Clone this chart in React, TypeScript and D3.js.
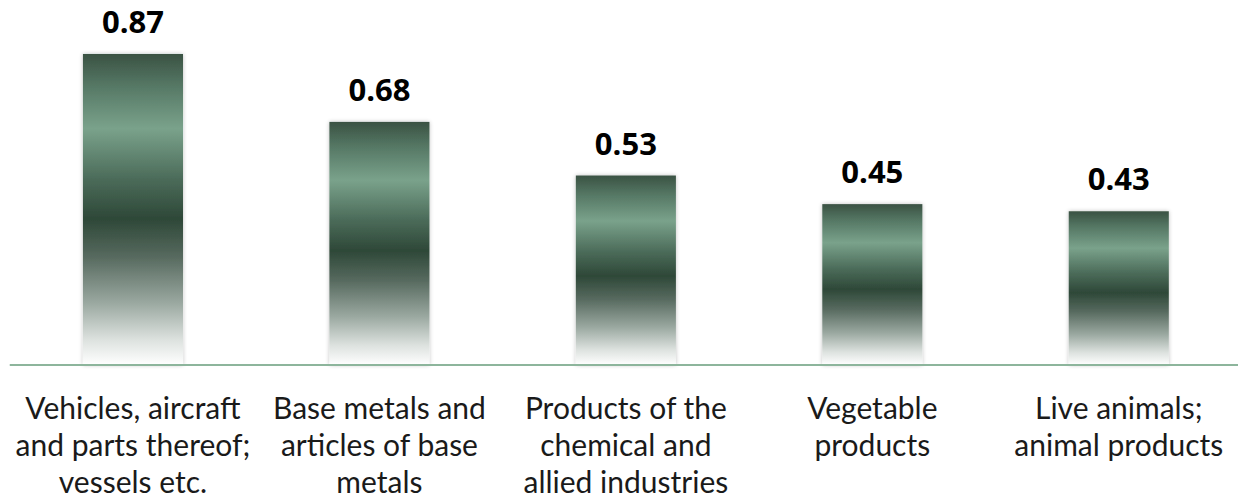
import React from "react";
import * as d3 from "d3";

const categories: string[][] = [
  ["Vehicles, aircraft", "and parts thereof;", "vessels etc."],
  ["Base metals and", "articles of base", "metals"],
  ["Products of the", "chemical and", "allied industries"],
  ["Vegetable", "products"],
  ["Live animals;", "animal products"],
];
const values: number[] = [0.87, 0.68, 0.53, 0.45, 0.43];
const valueLabels: string[] = ["0.87", "0.68", "0.53", "0.45", "0.43"];

const W = 1238;
const H = 501;
const baseY = 365;
const plotLeft = 9.75;
const plotRight = 1242;
const font = "Lato, 'Open Sans', sans-serif";

export default function App() {
  const ids = values.map((_, i) => i);
  const x = d3
    .scaleBand<number>()
    .domain(ids)
    .range([plotLeft, plotRight])
    .paddingInner(0.594)
    .paddingOuter(0.297);
  const y = d3.scaleLinear().domain([0, 1]).range([baseY, baseY - 357.5]);

  return (
    <svg
      width={W}
      height={H}
      style={{ position: "absolute", left: 0, top: 0, background: "#fff" }}
    >
      <defs>
        <linearGradient id="barGrad" x1="0" y1="0" x2="0" y2="1">
          <stop offset="0" stopColor="#3a5243" />
          <stop offset="0.1" stopColor="#557764" />
          <stop offset="0.24" stopColor="#7aa28b" />
          <stop offset="0.4" stopColor="#4c6c5a" />
          <stop offset="0.53" stopColor="#2e4838" />
          <stop offset="0.65" stopColor="#56695e" />
          <stop offset="0.8" stopColor="#9aa8a0" />
          <stop offset="0.92" stopColor="#dde2df" />
          <stop offset="1" stopColor="#ffffff" />
        </linearGradient>
        <filter id="shadow" x="-10%" y="-5%" width="120%" height="110%">
          <feGaussianBlur in="SourceAlpha" stdDeviation="2" />
          <feOffset dx="0" dy="0" result="b" />
          <feComponentTransfer>
            <feFuncA type="linear" slope="0.25" />
          </feComponentTransfer>
          <feMerge>
            <feMergeNode />
            <feMergeNode in="SourceGraphic" />
          </feMerge>
        </filter>
      </defs>
      {ids.map((i) => {
        const bx = x(i)!;
        const top = y(values[i]);
        return (
          <g key={i}>
            <rect
              x={bx}
              y={top}
              width={x.bandwidth()}
              height={baseY - top}
              fill="url(#barGrad)"
              filter="url(#shadow)"
            />
            <text
              x={bx + x.bandwidth() / 2}
              y={top - 21}
              textAnchor="middle"
              fontFamily="'Open Sans', sans-serif"
              fontWeight={700}
              fontSize={31}
              fill="#000"
            >
              {valueLabels[i]}
            </text>
            <text
              x={bx + x.bandwidth() / 2}
              y={419}
              textAnchor="middle"
              fontFamily={font}
              fontSize={30}
              fill="#1a1a1a"
            >
              {categories[i].map((line, k) => (
                <tspan key={k} x={bx + x.bandwidth() / 2} y={419 + k * 37}>
                  {line}
                </tspan>
              ))}
            </text>
          </g>
        );
      })}
      <line
        x1={plotLeft}
        x2={W}
        y1={baseY}
        y2={baseY}
        stroke="#8db59c"
        strokeWidth={2}
      />
    </svg>
  );
}
